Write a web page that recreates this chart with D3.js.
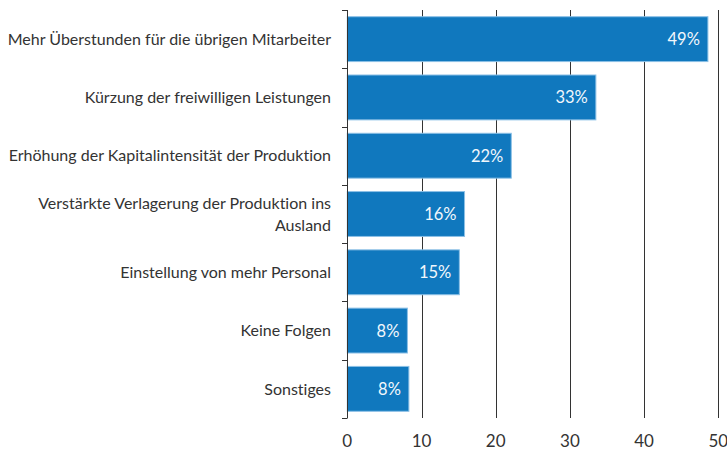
<!DOCTYPE html>
<html><head><meta charset="utf-8">
<script src="https://cdn.jsdelivr.net/npm/d3@7"></script>
<style>body{margin:0;background:#fff}svg{display:block}text{font-family:Lato,"Open Sans",sans-serif;font-variant-ligatures:none}</style>
</head><body>
<svg id="c" width="727" height="452"></svg>
<script>
const categories = [
  ["Mehr Überstunden für die übrigen Mitarbeiter"],
  ["Kürzung der freiwilligen Leistungen"],
  ["Erhöhung der Kapitalintensität der Produktion"],
  ["Verstärkte Verlagerung der Produktion ins","Ausland"],
  ["Einstellung von mehr Personal"],
  ["Keine Folgen"],
  ["Sonstiges"]
];
const values = [48.6, 33.5, 22.1, 15.8, 15.1, 8.1, 8.3];
const valueLabels = ["49%","33%","22%","16%","15%","8%","8%"];
const xTicks = [0,10,20,30,40,50];

const svg = d3.select("#c");
const x = d3.scaleLinear().domain([0,50]).range([347.3,718.3]);
const y = d3.scaleBand().domain(d3.range(categories.length)).range([10,418]).padding(0);

// gridlines
svg.append("g").selectAll("line").data(xTicks.slice(1)).join("line")
  .attr("x1",d=>Math.round(x(d))+0.5).attr("x2",d=>Math.round(x(d))+0.5)
  .attr("y1",10).attr("y2",418).attr("stroke","#333").attr("stroke-width",1);

// bars
const bh = y.bandwidth()*0.77;
svg.append("g").selectAll("rect").data(values).join("rect")
  .attr("x",x(0)).attr("y",(d,i)=>y(i)+(y.bandwidth()-bh)/2)
  .attr("width",d=>x(d)-x(0)).attr("height",bh)
  .attr("fill","#1078be").attr("stroke","#8cc0e6").attr("stroke-width",1);

// value labels
svg.append("g").selectAll("text").data(values).join("text")
  .attr("x",d=>x(d)-8).attr("y",(d,i)=>y(i)+y.bandwidth()/2)
  .attr("dy","0.36em").attr("text-anchor","end")
  .attr("fill","#f2f7fc").attr("font-size",16.5).text((d,i)=>valueLabels[i]);

// y axis
const yAxisG = svg.append("g");
yAxisG.append("line").attr("x1",347.5).attr("x2",347.5).attr("y1",10).attr("y2",418).attr("stroke","#333");
const bounds = d3.range(categories.length+1).map(i=>10+i*y.step());
yAxisG.selectAll("line.t").data(bounds).join("line").attr("class","t")
  .attr("x1",342).attr("x2",347.5).attr("y1",d=>Math.round(d)+0.5).attr("y2",d=>Math.round(d)+0.5).attr("stroke","#333");

// category labels
const cl = svg.append("g").selectAll("text").data(categories).join("text")
  .attr("text-anchor","end").attr("fill","#333").attr("font-size",16)
  .attr("transform",(d,i)=>`translate(331,${y(i)+y.bandwidth()/2})`);
cl.each(function(lines){
  const t = d3.select(this);
  const lh = 22;
  lines.forEach((s,k)=>{
    t.append("tspan").attr("x",0).attr("y",(k-(lines.length-1)/2)*lh).attr("dy","0.36em").text(s);
  });
});

// x axis labels
svg.append("g").selectAll("text").data(xTicks).join("text")
  .attr("x",d=>x(d)).attr("y",441).attr("dy","0.36em").attr("text-anchor","middle")
  .attr("fill","#333").attr("font-size",17).text(d=>d);
</script>
</body></html>
